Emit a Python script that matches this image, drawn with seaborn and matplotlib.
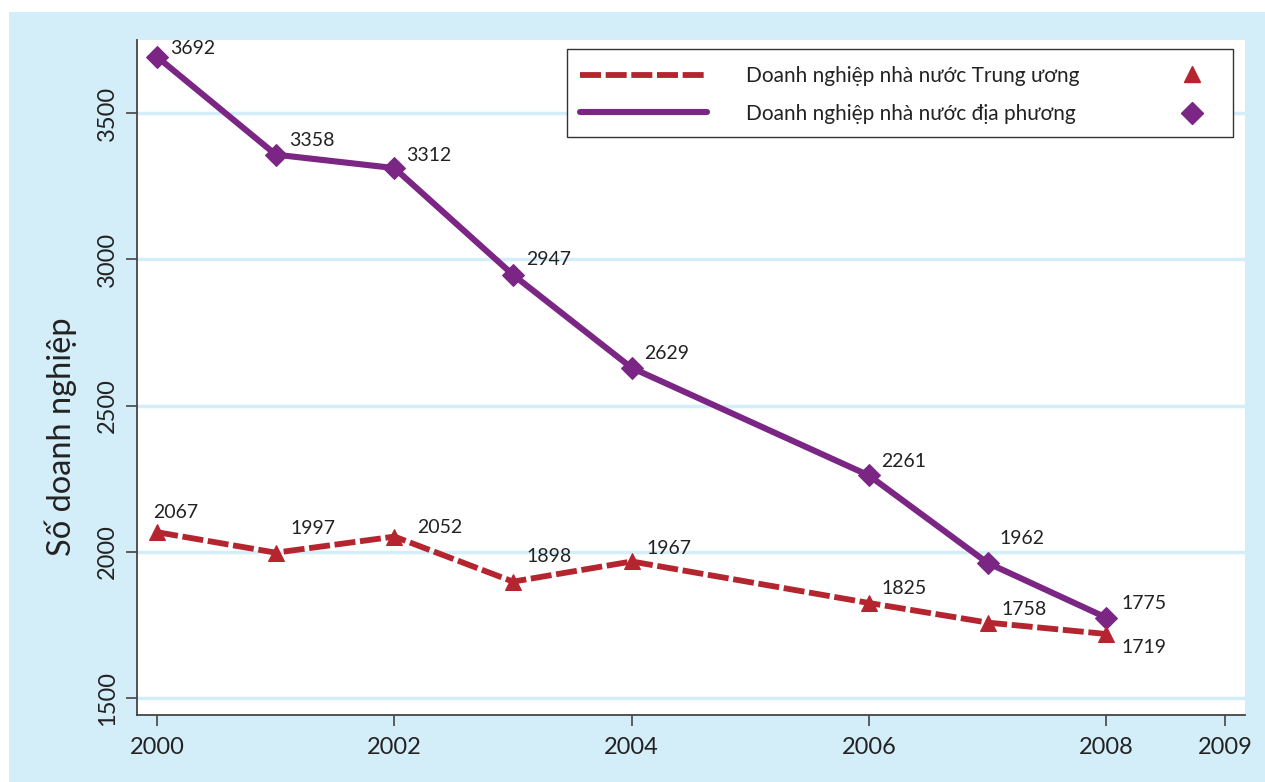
import numpy as np
import pandas as pd
import matplotlib
matplotlib.use('Agg')
import matplotlib.pyplot as plt
from matplotlib.lines import Line2D
from matplotlib.patches import Rectangle
import seaborn as sns

# Data
years = [2000, 2001, 2002, 2003, 2004, 2006, 2007, 2008]
central = [2067, 1997, 2052, 1898, 1967, 1825, 1758, 1719]
local = [3692, 3358, 3312, 2947, 2629, 2261, 1962, 1775]
label_central = 'Doanh nghiệp nhà nước Trung ương'
label_local = 'Doanh nghiệp nhà nước địa phương'
y_label = 'Số doanh nghiệp'
x_ticks = [2000, 2002, 2004, 2006, 2008, 2009]
y_ticks = [1500, 2000, 2500, 3000, 3500]

# label offsets in pixels (x, y)
off_central = [(-4, 20), (15, 24), (23, 9), (13, 25), (15, 13), (13, 14), (14, 13), (15, -14)]
off_local = [(13, 8), (13, 14), (12, 13), (13, 15), (12, 14), (12, 14), (12, 24), (15, 14)]

red = '#B5252F'
purple = '#7B2585'
bg = '#D4EEF9'
dash = [3.6, 0.8]

W, H = 1265, 782

sns.set_theme(style='white')
plt.rcParams['font.family'] = ['Lato', 'DejaVu Sans']

fig = plt.figure(figsize=(W / 100, H / 100), dpi=100)
# light blue panel with a white margin at top/left
fig.patches.append(Rectangle((9 / W, 0), 1, 1 - 12 / H, transform=fig.transFigure,
                             facecolor=bg, edgecolor='none', zorder=-10))
ax = fig.add_axes([137 / W, 1 - 715 / H, (1245 - 137) / W, (715 - 40) / H])
ax.set_facecolor('white')

df = pd.DataFrame({'year': years, 'central': central, 'local': local})

sns.lineplot(data=df, x='year', y='local', ax=ax, color=purple, linewidth=4.4,
             marker='D', markersize=11, markeredgecolor=purple, zorder=3)
sns.lineplot(data=df, x='year', y='central', ax=ax, color=red, linewidth=4.2,
             marker='^', markersize=11, markeredgecolor=red, zorder=3)
ax.lines[-1].set_dashes(dash)

for x, y, o in zip(years, local, off_local):
    ax.annotate(str(y), (x, y), xytext=o, textcoords='offset pixels',
                ha='left', va='center', fontsize=14, color='#222222')
for x, y, o in zip(years, central, off_central):
    ax.annotate(str(y), (x, y), xytext=o, textcoords='offset pixels',
                ha='left', va='center', fontsize=14, color='#222222')

ax.set_xlim(1999.83, 2009.17)
ax.set_ylim(1442, 3750)
ax.set_xticks(x_ticks)
ax.set_yticks(y_ticks)
ax.set_yticklabels([str(t) for t in y_ticks], rotation=90, va='center')
ax.tick_params(axis='both', which='major', direction='out', length=8, width=1.2,
               color='#444444', labelsize=17, labelcolor='#222222', pad=6,
               left=True, bottom=True)
ax.tick_params(axis='x', pad=8)
ax.grid(axis='y', color=bg, linewidth=2.5, zorder=0)
ax.set_axisbelow(True)
ax.set_xlabel('')
ax.set_ylabel(y_label, fontsize=23.5, color='#222222')
ax.yaxis.set_label_coords(-0.054, 0.412)

for side in ['top', 'right']:
    ax.spines[side].set_visible(False)
for side in ['left', 'bottom']:
    ax.spines[side].set_color('#444444')
    ax.spines[side].set_linewidth(1.3)

# legend: line sample, label, marker on the right (Stata style)
ax.add_patch(Rectangle((567 / W, 1 - 137 / H), 666 / W, 88 / H, transform=fig.transFigure,
                       facecolor='white', edgecolor='#333333', linewidth=1.0,
                       clip_on=False, zorder=4.5))
h_lines = [Line2D([], [], color=red, linewidth=4.2, dashes=dash),
           Line2D([], [], color=purple, linewidth=4.4)]
leg = ax.legend(h_lines, [label_central, label_local], loc='upper left',
                bbox_to_anchor=(580 / W, 1 - 66 / H), bbox_transform=fig.transFigure,
                fontsize=15, frameon=False, handlelength=6.1, handletextpad=1.85,
                labelspacing=0.85, borderpad=0, borderaxespad=0)
leg.set_zorder(5)
for t in leg.get_texts():
    t.set_color('#222222')
for mk, col, ms, yy in [('^', red, 12, 74), ('D', purple, 11, 113)]:
    ax.add_line(Line2D([1192 / W], [1 - yy / H], transform=fig.transFigure, marker=mk,
                       color=col, markersize=ms, linestyle='none', clip_on=False, zorder=6))

fig.savefig('out.png', dpi=100, facecolor='white')
